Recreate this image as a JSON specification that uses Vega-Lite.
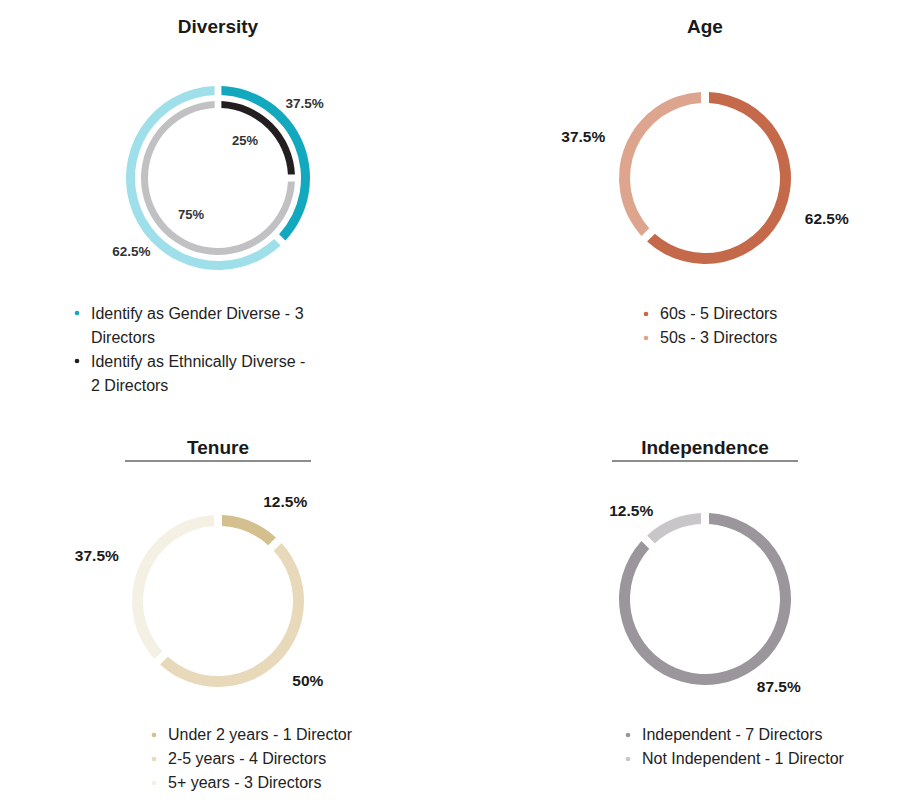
{
  "$schema": "https://vega.github.io/schema/vega-lite/v6.json",
  "padding": {"left": 0, "top": 18, "right": 0, "bottom": 0},
  "background": "white",
  "spacing": 36,
  "resolve": {"scale": {"color": "independent", "theta": "independent"}, "legend": {"color": "independent"}},
  "config": {
    "view": {"stroke": null},
    "font": "Liberation Sans",
    "legend": {
      "symbolType": "circle",
      "symbolSize": 22,
      "symbolStrokeWidth": 0,
      "labelFontSize": 16,
      "labelColor": "#222222",
      "labelFont": "Liberation Sans",
      "labelOffset": 6,
      "labelLimit": 400,
      "rowPadding": 8,
      "padding": 0
    }
  },
  "vconcat": [
    {
      "hconcat": [
        {
          "vconcat": [
            {
              "width": 186, "height": 2,
              "view": {"fill": null, "stroke": null},
              "data": {"values": [{"title": "Diversity"}]},
              "mark": {"type": "text", "dy": -13, "fontSize": 19, "fontWeight": "bold", "color": "#1a1a1a"},
              "encoding": {"text": {"field": "title", "type": "nominal"}}
            },
            {
              "vconcat": [
                {
                  "width": 436, "height": 210,
                  "data": {"values": [
                    {"ring": "outer", "category": "Identify as Gender Diverse - 3 Directors", "value": 3, "pct": "37.5%", "rank": 1},
                    {"ring": "outer", "category": "Not Gender Diverse - 5 Directors", "value": 5, "pct": "62.5%", "rank": 2},
                    {"ring": "inner", "category": "Identify as Ethnically Diverse - 2 Directors", "value": 2, "pct": "25%", "rank": 1},
                    {"ring": "inner", "category": "Not Ethnically Diverse - 6 Directors", "value": 6, "pct": "75%", "rank": 2}
                  ]},
                  "resolve": {"scale": {"theta": "independent"}},
                  "layer": [
                    {
                      "transform": [{"filter": "datum.ring === 'outer'"}],
                      "mark": {"type": "arc", "radius": 92, "radius2": 83, "padAngle": 0.055},
                      "encoding": {
                        "theta": {"field": "value", "type": "quantitative", "stack": true},
                        "order": {"field": "rank", "type": "quantitative"},
                        "color": {
                          "field": "category", "type": "nominal",
                          "scale": {
                            "domain": ["Identify as Gender Diverse - 3 Directors", "Identify as Ethnically Diverse - 2 Directors", "Not Gender Diverse - 5 Directors", "Not Ethnically Diverse - 6 Directors"],
                            "range": ["#12a8be", "#231f20", "#9fdfe9", "#c1c1c3"]
                          },
                          "legend": null
                        }
                      }
                    },
                    {
                      "transform": [{"filter": "datum.ring === 'inner'"}],
                      "mark": {"type": "arc", "radius": 77, "radius2": 70, "padAngle": 0.065},
                      "encoding": {
                        "theta": {"field": "value", "type": "quantitative", "stack": true},
                        "order": {"field": "rank", "type": "quantitative"},
                        "color": {
                          "field": "category", "type": "nominal",
                          "scale": {
                            "domain": ["Identify as Gender Diverse - 3 Directors", "Identify as Ethnically Diverse - 2 Directors", "Not Gender Diverse - 5 Directors", "Not Ethnically Diverse - 6 Directors"],
                            "range": ["#12a8be", "#231f20", "#9fdfe9", "#c1c1c3"]
                          },
                          "legend": null
                        }
                      }
                    },
                    {
                      "transform": [{"filter": "datum.ring === 'outer'"}],
                      "mark": {"type": "text", "radius": 100, "fontSize": 13.5, "fontWeight": "bold", "color": "#333333",
                               "align": {"expr": "datum.value_start + datum.value_end < 8 ? 'left' : 'right'"}},
                      "encoding": {
                        "theta": {"field": "value", "type": "quantitative", "stack": true, "scale": {"range": [-0.436, 5.847]}},
                        "order": {"field": "rank", "type": "quantitative"},
                        "text": {"field": "pct", "type": "nominal"}
                      }
                    },
                    {
                      "transform": [{"filter": "datum.ring === 'inner'"}],
                      "mark": {"type": "text", "radius": 46, "fontSize": 13, "fontWeight": "bold", "color": "#333333"},
                      "encoding": {
                        "theta": {"field": "value", "type": "quantitative", "stack": true, "scale": {"range": [-0.157, 6.126]}},
                        "order": {"field": "rank", "type": "quantitative"},
                        "text": {"field": "pct", "type": "nominal"}
                      }
                    }
                  ]
                },
                {
                  "width": 436, "height": 120,
                  "data": {"values": [
                    {"category": "Identify as Gender Diverse - 3 Directors", "value": 3},
                    {"category": "Identify as Ethnically Diverse - 2 Directors", "value": 2}
                  ]},
                  "mark": {"type": "arc", "radius": 0.01, "radius2": 0},
                  "encoding": {
                    "theta": {"field": "value", "type": "quantitative"},
                    "color": {
                      "field": "category", "type": "nominal",
                      "scale": {
                        "domain": ["Identify as Gender Diverse - 3 Directors", "Identify as Ethnically Diverse - 2 Directors"],
                        "range": ["#12a8be", "#231f20"]
                      },
                      "legend": {
                        "title": null, "orient": "none", "legendX": 69, "legendY": 22, "rowPadding": 7,
                        "labelExpr": "datum.label == 'Identify as Gender Diverse - 3 Directors' ? ['Identify as Gender Diverse - 3', 'Directors'] : ['Identify as Ethnically Diverse -', '2 Directors']",
                        "labelBaseline": "top",
                        "encode": {"labels": {"update": {"lineHeight": {"value": 24}, "dy": {"value": -7}}}}
                      }
                    }
                  }
                }
              ],
              "spacing": 0,
              "resolve": {"scale": {"color": "independent", "theta": "independent"}, "legend": {"color": "independent"}}
            }
          ],
          "spacing": 32, "center": true,
          "resolve": {"scale": {"color": "independent", "theta": "independent"}, "legend": {"color": "independent"}}
        },
        {
          "vconcat": [
            {
              "width": 186, "height": 2,
              "view": {"fill": null, "stroke": null},
              "data": {"values": [{"title": "Age"}]},
              "mark": {"type": "text", "dy": -13, "fontSize": 19, "fontWeight": "bold", "color": "#1a1a1a"},
              "encoding": {"text": {"field": "title", "type": "nominal"}}
            },
            {
              "vconcat": [
                {
                  "width": 300, "height": 210,
                  "data": {"values": [
                    {"category": "60s - 5 Directors", "value": 5, "pct": "62.5%", "rank": 1},
                    {"category": "50s - 3 Directors", "value": 3, "pct": "37.5%", "rank": 2}
                  ]},
                  "layer": [
                    {
                      "mark": {"type": "arc", "radius": 86, "radius2": 75, "padAngle": 0.07},
                      "encoding": {
                        "theta": {"field": "value", "type": "quantitative", "stack": true},
                        "order": {"field": "rank", "type": "quantitative"},
                        "color": {
                          "field": "category", "type": "nominal",
                          "scale": {"domain": ["60s - 5 Directors", "50s - 3 Directors"], "range": ["#c4694a", "#dea58e"]},
                          "legend": null
                        }
                      }
                    },
                    {
                      "mark": {"type": "text", "radius": 108, "fontSize": 15.5, "fontWeight": "bold", "color": "#1a1a1a",
                               "align": {"expr": "datum.value_start + datum.value_end < 8 ? 'left' : 'right'"}},
                      "encoding": {
                        "theta": {"field": "value", "type": "quantitative", "stack": true},
                        "order": {"field": "rank", "type": "quantitative"},
                        "text": {"field": "pct", "type": "nominal"}
                      }
                    }
                  ]
                },
                {
                  "width": 300, "height": 120,
                  "data": {"values": [
                    {"category": "60s - 5 Directors", "value": 5},
                    {"category": "50s - 3 Directors", "value": 3}
                  ]},
                  "mark": {"type": "arc", "radius": 0.01, "radius2": 0},
                  "encoding": {
                    "theta": {"field": "value", "type": "quantitative"},
                    "color": {
                      "field": "category", "type": "nominal",
                      "scale": {"domain": ["60s - 5 Directors", "50s - 3 Directors"], "range": ["#c4694a", "#dea58e"]},
                      "legend": {"title": null, "orient": "none", "legendX": 83, "legendY": 23}
                    }
                  }
                }
              ],
              "spacing": 0,
              "resolve": {"scale": {"color": "independent", "theta": "independent"}, "legend": {"color": "independent"}}
            }
          ],
          "spacing": 32, "center": true,
          "resolve": {"scale": {"color": "independent", "theta": "independent"}, "legend": {"color": "independent"}}
        }
      ],
      "spacing": 119,
      "resolve": {"scale": {"color": "independent", "theta": "independent"}, "legend": {"color": "independent"}}
    },
    {
      "hconcat": [
        {
          "vconcat": [
            {
              "width": 186, "height": 2,
              "view": {"fill": "#8c8c8c", "stroke": null},
              "data": {"values": [{"title": "Tenure"}]},
              "mark": {"type": "text", "dy": -13, "fontSize": 19, "fontWeight": "bold", "color": "#1a1a1a"},
              "encoding": {"text": {"field": "title", "type": "nominal"}}
            },
            {
              "vconcat": [
                {
                  "width": 436, "height": 210,
                  "data": {"values": [
                    {"category": "Under 2 years - 1 Director", "value": 1, "pct": "12.5%", "rank": 1},
                    {"category": "2-5 years - 4 Directors", "value": 4, "pct": "50%", "rank": 2},
                    {"category": "5+ years - 3 Directors", "value": 3, "pct": "37.5%", "rank": 3}
                  ]},
                  "resolve": {"scale": {"theta": "independent"}},
                  "layer": [
                    {
                      "mark": {"type": "arc", "radius": 86, "radius2": 75, "padAngle": 0.07},
                      "encoding": {
                        "theta": {"field": "value", "type": "quantitative", "stack": true},
                        "order": {"field": "rank", "type": "quantitative"},
                        "color": {
                          "field": "category", "type": "nominal",
                          "scale": {"domain": ["Under 2 years - 1 Director", "2-5 years - 4 Directors", "5+ years - 3 Directors"], "range": ["#d4c08f", "#e7d9b9", "#f4f0e3"]},
                          "legend": null
                        }
                      }
                    },
                    {
                      "mark": {"type": "text", "radius": 109, "fontSize": 15.5, "fontWeight": "bold", "color": "#1a1a1a",
                               "align": {"expr": "datum.value_start + datum.value_end < 8 ? 'left' : 'right'"}},
                      "encoding": {
                        "theta": {"field": "value", "type": "quantitative", "stack": true, "scale": {"range": [0.035, 6.318]}},
                        "order": {"field": "rank", "type": "quantitative"},
                        "text": {"field": "pct", "type": "nominal"}
                      }
                    }
                  ]
                },
                {
                  "width": 436, "height": 120,
                  "data": {"values": [
                    {"category": "Under 2 years - 1 Director", "value": 1},
                    {"category": "2-5 years - 4 Directors", "value": 4},
                    {"category": "5+ years - 3 Directors", "value": 3}
                  ]},
                  "mark": {"type": "arc", "radius": 0.01, "radius2": 0},
                  "encoding": {
                    "theta": {"field": "value", "type": "quantitative"},
                    "color": {
                      "field": "category", "type": "nominal",
                      "scale": {"domain": ["Under 2 years - 1 Director", "2-5 years - 4 Directors", "5+ years - 3 Directors"], "range": ["#d4c08f", "#e7d9b9", "#f4f0e3"]},
                      "legend": {"title": null, "orient": "none", "legendX": 146, "legendY": 21}
                    }
                  }
                }
              ],
              "spacing": 0,
              "resolve": {"scale": {"color": "independent", "theta": "independent"}, "legend": {"color": "independent"}}
            }
          ],
          "spacing": 32, "center": true,
          "resolve": {"scale": {"color": "independent", "theta": "independent"}, "legend": {"color": "independent"}}
        },
        {
          "vconcat": [
            {
              "width": 186, "height": 2,
              "view": {"fill": "#8c8c8c", "stroke": null},
              "data": {"values": [{"title": "Independence"}]},
              "mark": {"type": "text", "dy": -13, "fontSize": 19, "fontWeight": "bold", "color": "#1a1a1a"},
              "encoding": {"text": {"field": "title", "type": "nominal"}}
            },
            {
              "vconcat": [
                {
                  "width": 300, "height": 210,
                  "data": {"values": [
                    {"category": "Independent - 7 Directors", "value": 7, "pct": "87.5%", "rank": 1},
                    {"category": "Not Independent - 1 Director", "value": 1, "pct": "12.5%", "rank": 2}
                  ]},
                  "resolve": {"scale": {"theta": "independent"}},
                  "layer": [
                    {
                      "mark": {"type": "arc", "radius": 86, "radius2": 75, "padAngle": 0.07},
                      "encoding": {
                        "theta": {"field": "value", "type": "quantitative", "stack": true},
                        "order": {"field": "rank", "type": "quantitative"},
                        "color": {
                          "field": "category", "type": "nominal",
                          "scale": {"domain": ["Independent - 7 Directors", "Not Independent - 1 Director"], "range": ["#9b969b", "#c9c6ca"]},
                          "legend": null
                        }
                      }
                    },
                    {
                      "mark": {"type": "text", "radius": 102, "fontSize": 15.5, "fontWeight": "bold", "color": "#1a1a1a",
                               "align": {"expr": "datum.value_start + datum.value_end < 8 ? 'left' : 'right'"}},
                      "encoding": {
                        "theta": {"field": "value", "type": "quantitative", "stack": true, "scale": {"range": [-0.14, 6.143]}},
                        "order": {"field": "rank", "type": "quantitative"},
                        "text": {"field": "pct", "type": "nominal"}
                      }
                    }
                  ]
                },
                {
                  "width": 300, "height": 120,
                  "data": {"values": [
                    {"category": "Independent - 7 Directors", "value": 7},
                    {"category": "Not Independent - 1 Director", "value": 1}
                  ]},
                  "mark": {"type": "arc", "radius": 0.01, "radius2": 0},
                  "encoding": {
                    "theta": {"field": "value", "type": "quantitative"},
                    "color": {
                      "field": "category", "type": "nominal",
                      "scale": {"domain": ["Independent - 7 Directors", "Not Independent - 1 Director"], "range": ["#9b969b", "#c9c6ca"]},
                      "legend": {"title": null, "orient": "none", "legendX": 65, "legendY": 23}
                    }
                  }
                }
              ],
              "spacing": 0,
              "resolve": {"scale": {"color": "independent", "theta": "independent"}, "legend": {"color": "independent"}}
            }
          ],
          "spacing": 32, "center": true,
          "resolve": {"scale": {"color": "independent", "theta": "independent"}, "legend": {"color": "independent"}}
        }
      ],
      "spacing": 119,
      "resolve": {"scale": {"color": "independent", "theta": "independent"}, "legend": {"color": "independent"}}
    }
  ]
}
